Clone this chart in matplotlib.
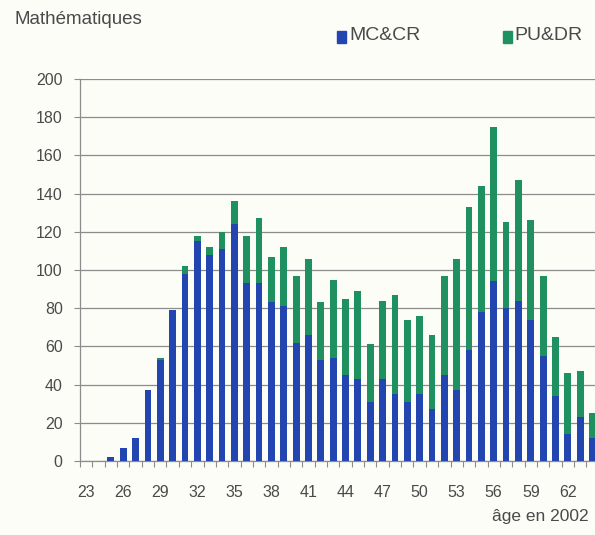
import matplotlib
matplotlib.use("Agg")
import matplotlib.pyplot as plt
from matplotlib.patches import Rectangle
from matplotlib.ticker import MultipleLocator
import numpy as np

ages = list(range(23, 65))
mc_cr = [0, 0, 2, 7, 12, 37, 53, 79, 98, 115, 108, 111, 124, 93, 93, 83, 81, 62, 66, 53,
         54, 45, 43, 31, 43, 35, 31, 35, 27, 45, 37, 58, 78, 94, 80, 84, 74, 55, 34, 14,
         23, 12]
pu_dr = [0, 0, 0, 0, 0, 0, 1, 0, 4, 3, 4, 9, 12, 25, 34, 24, 31, 35, 40, 30,
         41, 40, 46, 30, 41, 52, 43, 41, 39, 52, 69, 75, 66, 81, 45, 63, 52, 42, 31, 32,
         24, 13]
tick_ages = list(range(23, 63, 3))

plt.rcParams['font.family'] = ['Liberation Sans', 'DejaVu Sans']
txt = '#4a4a4a'
bg = '#fdfdf7'
blue = '#2345b0'
green = '#1f9160'

fig = plt.figure(figsize=(5.95, 5.35), dpi=100, facecolor=bg)
ax = fig.add_axes([80 / 595, 74 / 535, 1 - 80 / 595, 382 / 535], facecolor=bg)

x = np.array(ages)
ax.bar(x, mc_cr, 0.55, color=blue, zorder=3)
ax.bar(x, pu_dr, 0.55, bottom=mc_cr, color=green, zorder=3)

ax.set_xlim(22.5, 64.2)
ax.set_ylim(0, 200)
ax.yaxis.set_major_locator(MultipleLocator(20))
ax.grid(axis='y', color='#8c8c8c', linewidth=0.9, zorder=0)
ax.set_xticks(tick_ages)
ax.set_xticks(np.arange(22.5, 64.5, 1), minor=True)
ax.tick_params(axis='x', which='major', length=0, pad=17, labelsize=11.5, labelcolor=txt)
ax.tick_params(axis='x', which='minor', length=4, width=0.8, color='#8c8c8c')
ax.tick_params(axis='y', length=4.5, width=0.8, color='#8c8c8c', pad=8,
               labelsize=11.5, labelcolor=txt)
for s in ['top', 'right']:
    ax.spines[s].set_visible(False)
for s in ['left', 'bottom']:
    ax.spines[s].set_color('#8c8c8c')
    ax.spines[s].set_linewidth(0.9)

fig.text(14 / 595, 1 - 20 / 535, 'Mathématiques', fontsize=13.5, color=txt,
         va='center', ha='left')
fig.patches.append(Rectangle((337 / 595, 1 - 43 / 535), 9 / 595, 12 / 535,
                             color=blue, transform=fig.transFigure))
fig.text(349 / 595, 1 - 36 / 535, 'MC&CR', fontsize=14, color=txt, va='center', ha='left')
fig.patches.append(Rectangle((503 / 595, 1 - 43 / 535), 9 / 595, 12 / 535,
                             color=green, transform=fig.transFigure))
fig.text(514 / 595, 1 - 36 / 535, 'PU&DR', fontsize=14, color=txt, va='center', ha='left')
fig.text(589 / 595, 1 - 516 / 535, 'âge en 2002', fontsize=12.5, color=txt,
         va='center', ha='right')

fig.savefig('out.png', dpi=100, facecolor=bg)
